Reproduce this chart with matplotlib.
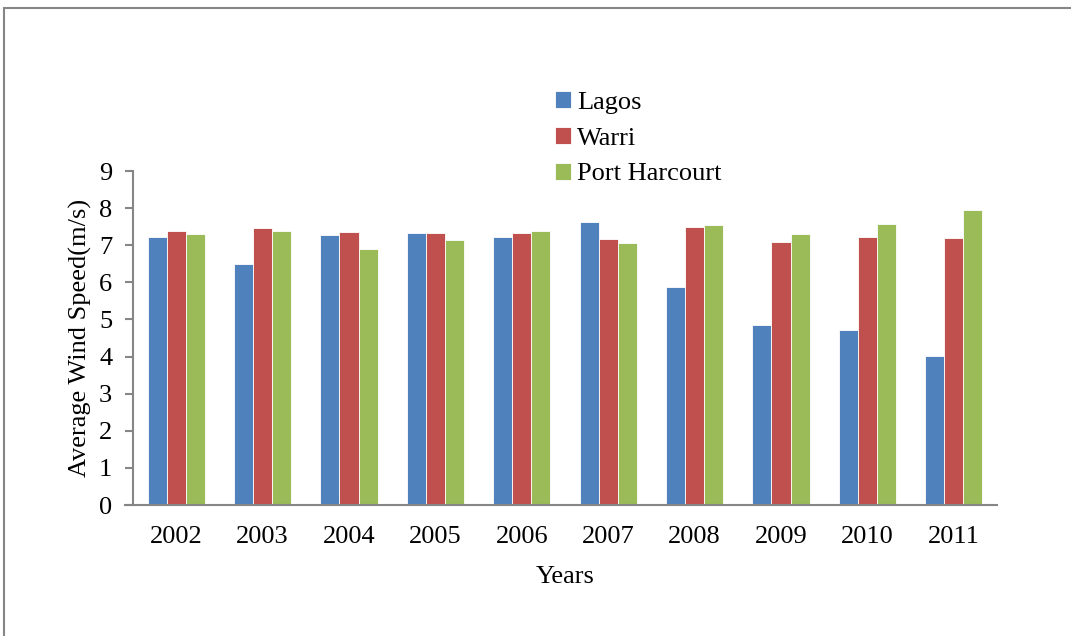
import matplotlib
matplotlib.use("Agg")
import matplotlib.pyplot as plt
from matplotlib.patches import Rectangle
import numpy as np

# data
years = ['2002', '2003', '2004', '2005', '2006', '2007', '2008', '2009', '2010', '2011']
lagos = [7.22, 6.50, 7.28, 7.32, 7.22, 7.62, 5.88, 4.85, 4.71, 4.01]
warri = [7.38, 7.47, 7.36, 7.32, 7.32, 7.18, 7.49, 7.08, 7.21, 7.20]
port_harcourt = [7.30, 7.38, 6.90, 7.13, 7.38, 7.06, 7.55, 7.30, 7.57, 7.94]

series = [('Lagos', lagos, '#4F81BD'),
          ('Warri', warri, '#C0504D'),
          ('Port Harcourt', port_harcourt, '#9BBB59')]

plt.rcParams['font.family'] = ['Liberation Serif', 'DejaVu Serif']
FS = 19

W, H = 1071, 636
fig = plt.figure(figsize=(W / 100, H / 100), dpi=100)
ax = fig.add_axes([133 / W, 1 - 505 / H, (997 - 133) / W, (505 - 171) / H])

x = np.arange(len(years))
bw = 0.22
for i, (name, vals, col) in enumerate(series):
    ax.bar(x + (i - 1) * bw, vals, width=bw, color=col, edgecolor='white',
           linewidth=0.6, label=name, zorder=2)

ax.set_xlim(-0.5, len(years) - 0.5)
ax.set_ylim(0, 9)
ax.set_yticks(range(0, 10))
ax.set_xticks(x)
ax.set_xticklabels(years)

axis_col = '#868686'
for s in ['top', 'right']:
    ax.spines[s].set_visible(False)
for s in ['left', 'bottom']:
    ax.spines[s].set_color(axis_col)
    ax.spines[s].set_linewidth(1.5)
ax.spines['bottom'].set_bounds(-0.5 - 8 / 86.4, len(years) - 0.5)

ax.tick_params(axis='y', length=6, width=1.5, color=axis_col, pad=9, labelsize=FS)
ax.tick_params(axis='x', length=0, pad=15, labelsize=FS)

ax.set_ylabel('Average Wind Speed(m/s)', fontsize=FS, labelpad=5)
ax.set_xlabel('Years', fontsize=FS, labelpad=13)

leg = ax.legend(loc='upper left', bbox_to_anchor=(555 / W, 1 - 91 / H),
                bbox_transform=fig.transFigure, frameon=False, fontsize=FS,
                borderpad=0, borderaxespad=0, handlelength=0.6, handleheight=0.6,
                handletextpad=0.25, labelspacing=0.5)

# outer chart border (cut off at right and bottom in the reference)
fig.patches.append(Rectangle((3.5 / W, -0.1), 1.2, 1 - 7.5 / H + 0.1,
                             transform=fig.transFigure, fill=False,
                             edgecolor=axis_col, linewidth=1.5))

plt.savefig('out.png', dpi=100)
